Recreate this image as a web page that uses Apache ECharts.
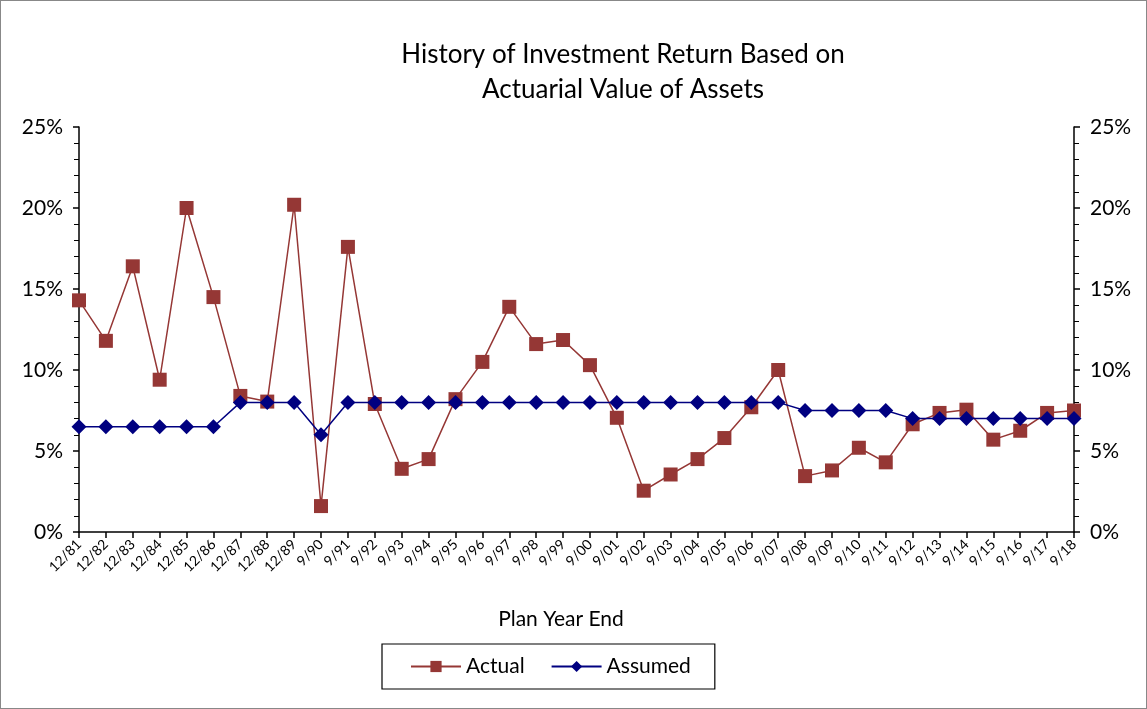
<!DOCTYPE html>
<html>
<head>
<meta charset="utf-8">
<script src="https://cdn.jsdelivr.net/npm/echarts@6/dist/echarts.min.js"></script>
<style>
  html, body { margin: 0; padding: 0; background: #fff; }
  #chart { width: 1147px; height: 709px; box-sizing: border-box; border: 1.5px solid #888; }
</style>
</head>
<body>
<div id="chart"></div>
<script>
  // plan year ends
  const years = ['12/81', '12/82', '12/83', '12/84', '12/85', '12/86', '12/87', '12/88', '12/89',
    '9/90', '9/91', '9/92', '9/93', '9/94', '9/95', '9/96', '9/97', '9/98', '9/99',
    '9/00', '9/01', '9/02', '9/03', '9/04', '9/05', '9/06', '9/07', '9/08', '9/09',
    '9/10', '9/11', '9/12', '9/13', '9/14', '9/15', '9/16', '9/17', '9/18'];

  // returns in percent
  const actual = [14.3, 11.8, 16.4, 9.4, 20.0, 14.5, 8.4, 8.05, 20.2,
    1.6, 17.6, 7.9, 3.9, 4.5, 8.2, 10.5, 13.9, 11.6, 11.85,
    10.3, 7.05, 2.55, 3.55, 4.5, 5.8, 7.7, 10.0, 3.45, 3.8,
    5.2, 4.3, 6.65, 7.35, 7.55, 5.7, 6.25, 7.35, 7.5];

  const assumed = [6.5, 6.5, 6.5, 6.5, 6.5, 6.5, 8.0, 8.0, 8.0,
    6.0, 8.0, 8.0, 8.0, 8.0, 8.0, 8.0, 8.0, 8.0, 8.0,
    8.0, 8.0, 8.0, 8.0, 8.0, 8.0, 8.0, 8.0, 7.5, 7.5,
    7.5, 7.5, 7.0, 7.0, 7.0, 7.0, 7.0, 7.0, 7.0];

  const font = 'Lato';
  let chart = echarts.init(document.getElementById('chart'));

  let yAxisBase = {
    type: 'value',
    min: 0,
    max: 25,
    interval: 5,
    splitLine: { show: false },
    axisLine: { show: true, lineStyle: { color: '#000', width: 1.5 } },
    axisTick: { show: true, length: 6, lineStyle: { color: '#000', width: 1.5 } },
    minorTick: { show: true, splitNumber: 5, length: 5, lineStyle: { color: '#000', width: 1 } },
    axisLabel: {
      color: '#000', fontFamily: font, fontSize: 21, margin: 16,
      formatter: (v) => v + '%'
    }
  };

  chart.setOption({
    textStyle: { fontFamily: font },
    title: [
      {
        text: 'History of Investment Return Based on\nActuarial Value of Assets',
        left: 617, top: 31, textAlign: 'center',
        textStyle: { fontFamily: font, fontSize: 26, fontWeight: 'normal', color: '#000', lineHeight: 35 }
      },
      {
        text: 'Plan Year End',
        left: 555, top: 603, textAlign: 'center',
        textStyle: { fontFamily: font, fontSize: 21, fontWeight: 'normal', color: '#000' }
      }
    ],
    legend: {
      left: 381, top: 643, width: 334,
      itemGap: 26,
      itemWidth: 50, itemHeight: 14,
      borderColor: '#000', borderWidth: 1.2,
      padding: [12, 24, 12, 28],
      textStyle: { fontFamily: font, fontSize: 21, color: '#000' },
      data: ['Actual', 'Assumed']
    },
    grid: { left: 78, right: 72, top: 126, bottom: 176 },
    xAxis: {
      type: 'category',
      data: years,
      boundaryGap: false,
      axisLine: { lineStyle: { color: '#000', width: 1.5 } },
      axisTick: { show: true, length: 6, alignWithLabel: true, lineStyle: { color: '#000', width: 1.5 } },
      axisLabel: { color: '#000', fontFamily: font, fontSize: 14, rotate: 45, interval: 0, margin: 10 }
    },
    yAxis: [
      Object.assign({}, yAxisBase, { position: 'left' }),
      Object.assign({}, yAxisBase, { position: 'right' })
    ],
    series: [
      {
        name: 'Actual',
        type: 'line',
        data: actual,
        symbol: 'rect',
        symbolSize: 14,
        lineStyle: { color: '#953735', width: 1.5 },
        itemStyle: { color: '#953735' },
        z: 2
      },
      {
        name: 'Assumed',
        type: 'line',
        data: assumed,
        symbol: 'diamond',
        symbolSize: 15,
        lineStyle: { color: '#000080', width: 1.5 },
        itemStyle: { color: '#000080' },
        z: 3
      }
    ]
  });
</script>
</body>
</html>
